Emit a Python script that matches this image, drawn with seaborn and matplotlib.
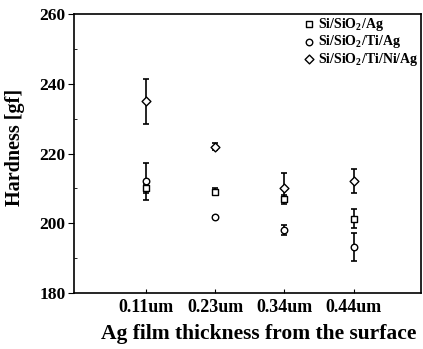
import numpy as np
import pandas as pd
import matplotlib
matplotlib.use("Agg")
import matplotlib.pyplot as plt
import seaborn as sns
from matplotlib.ticker import MultipleLocator

# ========================
# Data
# ========================
thickness = ['0.11um', '0.23um', '0.34um', '0.44um']
series = ['Si/SiO$_\\mathbf{2}$/Ag', 'Si/SiO$_\\mathbf{2}$/Ti/Ag', 'Si/SiO$_\\mathbf{2}$/Ti/Ni/Ag']

ag_vals = [210.0, 209.1, 207.0, 201.3]
ag_err = [1.2, 1.0, 1.0, 2.7]
ti_vals = [212.0, 201.9, 198.1, 193.3]
ti_err = [5.2, 0.3, 1.5, 4.0]
tini_vals = [235.0, 222.0, 210.0, 212.2]
tini_err = [6.5, 1.0, 4.5, 3.5]

markers = ['s', 'o', 'D']
sizes = [22, 22, 20]

df = pd.DataFrame({
    'thickness': thickness * 3,
    'pos': list(range(len(thickness))) * 3,
    'hardness': ag_vals + ti_vals + tini_vals,
    'err': ag_err + ti_err + tini_err,
    'sample': [s for s in series for _ in thickness],
})

# ========================
# Style
# ========================
sns.set_style("ticks")
plt.rcParams['font.family'] = ['Liberation Serif', 'DejaVu Serif']
plt.rcParams['font.weight'] = 'bold'
plt.rcParams['mathtext.fontset'] = 'custom'
plt.rcParams['mathtext.rm'] = 'Liberation Serif:bold'
plt.rcParams['mathtext.bf'] = 'Liberation Serif:bold'
plt.rcParams['text.color'] = 'black'
plt.rcParams['axes.labelcolor'] = 'black'
plt.rcParams['xtick.color'] = 'black'
plt.rcParams['ytick.color'] = 'black'

fig = plt.figure(figsize=(4.23, 3.49), dpi=100)
ax = fig.add_axes([0.175, 0.16, 0.82, 0.80])

for s, m, sz in zip(series, markers, sizes):
    sub = df[df['sample'] == s]
    ax.errorbar(sub['pos'], sub['hardness'], yerr=sub['err'], fmt='none',
                ecolor='black', elinewidth=1.2, capsize=2.5, capthick=1.2, zorder=2)
    sns.scatterplot(data=sub, x='pos', y='hardness', marker=m, s=sz,
                    facecolor='white', edgecolor='black', linewidth=1.0,
                    label=s, ax=ax, zorder=3)

ax.set_xlim(-1.04, 3.97)
ax.set_ylim(180, 260)
ax.set_xticks(range(len(thickness)))
ax.set_xticklabels(thickness)
ax.yaxis.set_major_locator(MultipleLocator(20))
ax.yaxis.set_minor_locator(MultipleLocator(10))
ax.tick_params(axis='x', direction='in', length=3, labelsize=13, pad=4)
ax.tick_params(axis='y', which='major', direction='out', length=4, labelsize=12.5, pad=2)
ax.tick_params(axis='y', which='minor', direction='in', length=2)
for lab in ax.get_xticklabels() + ax.get_yticklabels():
    lab.set_fontweight('bold')

for sp in ax.spines.values():
    sp.set_visible(True)
    sp.set_linewidth(1.2)
    sp.set_color('black')

ax.set_xlabel('Ag film thickness from the surface', fontsize=15.5, fontweight='bold')
ax.set_ylabel('Hardness [gf]', fontsize=14.5, fontweight='bold')
ax.xaxis.set_label_coords(0.533, -0.112)
ax.yaxis.set_label_coords(-0.14, 0.523)

leg = ax.legend(loc='upper right', frameon=False, fontsize=10, handletextpad=0.1,
                borderaxespad=0.0, labelspacing=0.02, handlelength=1.1,
                borderpad=0.15)

plt.savefig("out.png", dpi=100)
